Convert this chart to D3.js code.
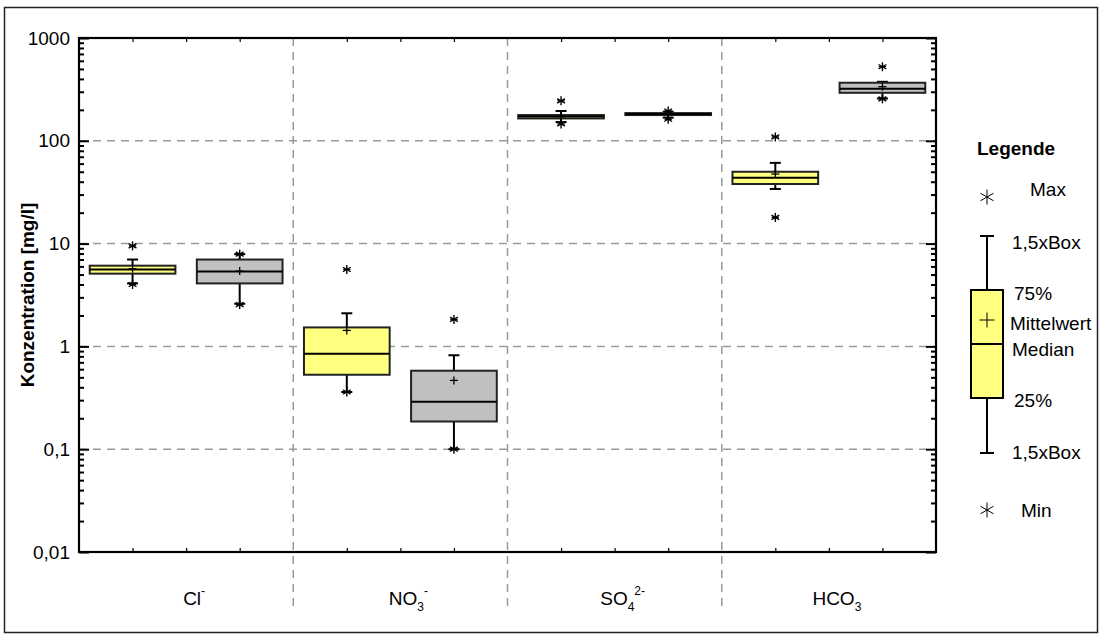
<!DOCTYPE html>
<html><head><meta charset="utf-8">
<script src="https://cdn.jsdelivr.net/npm/d3@7"></script>
<style>
html,body{margin:0;padding:0;background:#fff;}
svg{display:block;font-family:"Liberation Sans",Arial,sans-serif;}
</style></head>
<body>
<svg id="chart" width="1104" height="637"></svg>
<script>
// ---- data ----
const categories = ["Cl", "NO3", "SO4", "HCO3"];
const categoryMain = ["Cl", "NO", "SO", "HCO"];
const categorySub = ["", "3", "4", "3"];
const categorySup = ["-", "-", "2-", ""];

const yellowMin       = [4.0, 0.36, 146, 18];
const yellowWhiskLow  = [4.1, 0.36, 152, 34];
const yellowQ1        = [5.1, 0.53, 165, 38];
const yellowMedian    = [5.6, 0.85, 172, 43.6];
const yellowMean      = [5.7, 1.43, 172, 47.5];
const yellowQ3        = [6.1, 1.53, 178, 50];
const yellowWhiskHigh = [7.0, 2.1, 195, 61];
const yellowMax       = [9.5, 5.6, 245, 109];

const grayMin       = [2.55, 0.1, 162, 256];
const grayWhiskLow  = [2.6, 0.1, 168, 258];
const grayQ1        = [4.1, 0.186, 178, 293];
const grayMedian    = [5.35, 0.29, 182, 321];
const grayMean      = [5.4, 0.467, 182, 336];
const grayQ3        = [7.0, 0.58, 186, 367];
const grayWhiskHigh = [7.9, 0.82, 192, 375];
const grayMax       = [7.9, 1.83, 195, 525];

const yTickValues = [0.01, 0.1, 1, 10, 100, 1000];
const yTickLabels = ["0,01", "0,1", "1", "10", "100", "1000"];
const legendTitle = "Legende";
const legendLabels = ["Max", "1,5xBox", "75%", "Mittelwert", "Median", "25%", "1,5xBox", "Min"];

// ---- layout ----
const svg = d3.select("#chart");
const L = 79, R = 936, T = 38, B = 552;
const FONT = 19;

const x = d3.scaleBand().domain(categories).range([L, R]).padding(0);
const y = d3.scaleLog().domain([0.01, 1000]).range([B, T]);
const bw = x.bandwidth();
const boxW = bw * 0.4;
const capW = 11;

const series = [
  {fill: "#FFFF80", off: 0.25, min: yellowMin, wl: yellowWhiskLow, q1: yellowQ1, med: yellowMedian, mean: yellowMean, q3: yellowQ3, wh: yellowWhiskHigh, max: yellowMax},
  {fill: "#C0C0C0", off: 0.75, min: grayMin, wl: grayWhiskLow, q1: grayQ1, med: grayMedian, mean: grayMean, q3: grayQ3, wh: grayWhiskHigh, max: grayMax}
];

// outer frame
svg.append("rect").attr("x", 4.5).attr("y", 7.5).attr("width", 1093).attr("height", 625)
  .attr("fill", "none").attr("stroke", "#222").attr("stroke-width", 1.5);

// grid lines
const gridVals = [0.1, 1, 10, 100];
svg.append("g").selectAll("line").data(gridVals).join("line")
  .attr("x1", L).attr("x2", R).attr("y1", d => y(d)).attr("y2", d => y(d))
  .attr("stroke", "#9a9a9a").attr("stroke-width", 1.5).attr("stroke-dasharray", "8,6");
svg.append("g").selectAll("line").data(categories.slice(1)).join("line")
  .attr("x1", d => x(d)).attr("x2", d => x(d)).attr("y1", T).attr("y2", 611)
  .attr("stroke", "#9a9a9a").attr("stroke-width", 1.5).attr("stroke-dasharray", "8,6");

// y axes (major, with labels)
const fmt = d => yTickLabels[yTickValues.indexOf(d)];
const gL = svg.append("g").attr("transform", `translate(${L},0)`)
  .call(d3.axisLeft(y).tickValues(yTickValues).tickFormat(fmt).tickSize(-10).tickPadding(9));
gL.select(".domain").remove();
gL.selectAll(".tick line").attr("stroke", "#000").attr("stroke-width", 2);
gL.selectAll(".tick text").attr("font-size", FONT).attr("fill", "#000")
  .attr("font-family", "Liberation Sans, Arial, sans-serif");

const minorVals = y.ticks().filter(v => yTickValues.indexOf(v) < 0);
const gLm = svg.append("g").attr("transform", `translate(${L},0)`)
  .call(d3.axisLeft(y).tickValues(minorVals).tickFormat("").tickSize(-5));
gLm.select(".domain").remove();
gLm.selectAll(".tick line").attr("stroke", "#000").attr("stroke-width", 2);

const gR = svg.append("g").attr("transform", `translate(${R},0)`)
  .call(d3.axisRight(y).tickValues(yTickValues).tickFormat("").tickSize(-10));
gR.select(".domain").remove();
gR.selectAll(".tick line").attr("stroke", "#000").attr("stroke-width", 2);
const gRm = svg.append("g").attr("transform", `translate(${R},0)`)
  .call(d3.axisRight(y).tickValues(minorVals).tickFormat("").tickSize(-5));
gRm.select(".domain").remove();
gRm.selectAll(".tick line").attr("stroke", "#000").attr("stroke-width", 2);

// top / bottom small ticks at quarter bands
const quarterPos = [];
categories.forEach(c => { [0.25, 0.5, 0.75].forEach(f => quarterPos.push(x(c) + bw * f)); });
const qs = d3.scaleLinear().domain([L, R]).range([L, R]);
const gT = svg.append("g").attr("transform", `translate(0,${T})`)
  .call(d3.axisTop(qs).tickValues(quarterPos).tickFormat("").tickSize(-4));
gT.select(".domain").remove();
gT.selectAll(".tick line").attr("stroke", "#000").attr("stroke-width", 1.2);
const gB = svg.append("g").attr("transform", `translate(0,${B})`)
  .call(d3.axisBottom(qs).tickValues(quarterPos).tickFormat("").tickSize(-4));
gB.select(".domain").remove();
gB.selectAll(".tick line").attr("stroke", "#000").attr("stroke-width", 1.2);

// plot frame
svg.append("rect").attr("x", L).attr("y", T).attr("width", R - L).attr("height", B - T)
  .attr("fill", "none").attr("stroke", "#000").attr("stroke-width", 2.2);

// category labels
const catG = svg.append("g");
categories.forEach((c, i) => {
  const t = catG.append("text").attr("x", x(c) + bw / 2 + 8).attr("y", 605)
    .attr("text-anchor", "middle").attr("font-size", FONT).attr("fill", "#000");
  t.append("tspan").text(categoryMain[i]);
  if (categorySub[i]) t.append("tspan").attr("dy", 6).attr("font-size", 12).text(categorySub[i]);
  if (categorySup[i]) t.append("tspan").attr("dy", categorySub[i] ? -16 : -10).attr("font-size", 12).text(categorySup[i]);
});

// y title
svg.append("text").attr("transform", `translate(34,${(T + B) / 2}) rotate(-90)`)
  .attr("text-anchor", "middle").attr("font-size", FONT).attr("font-weight", "bold")
  .text("Konzentration [mg/l]");

// star marker
function star(g, cx, cy, r, sw, withH) {
  const p = g.append("g").attr("transform", `translate(${cx},${cy})`)
    .attr("stroke", "#000").attr("stroke-width", sw);
  p.append("line").attr("x1", 0).attr("x2", 0).attr("y1", -r).attr("y2", r);
  const a = r * Math.cos(Math.PI / 6), b = r * Math.sin(Math.PI / 6);
  p.append("line").attr("x1", -a).attr("x2", a).attr("y1", -b).attr("y2", b);
  p.append("line").attr("x1", -a).attr("x2", a).attr("y1", b).attr("y2", -b);
  if (withH) p.append("line").attr("x1", -r * 0.8).attr("x2", r * 0.8).attr("y1", 0).attr("y2", 0);
}
function plus(g, cx, cy, r, sw) {
  const p = g.append("g").attr("stroke", "#000").attr("stroke-width", sw);
  p.append("line").attr("x1", cx - r).attr("x2", cx + r).attr("y1", cy).attr("y2", cy);
  p.append("line").attr("x1", cx).attr("x2", cx).attr("y1", cy - r).attr("y2", cy + r);
}

// boxes
const boxG = svg.append("g");
series.forEach(s => {
  categories.forEach((c, i) => {
    const cx = x(c) + bw * s.off;
    const g = boxG.append("g");
    // whiskers
    g.append("line").attr("x1", cx).attr("x2", cx).attr("y1", y(s.q3[i])).attr("y2", y(s.wh[i]))
      .attr("stroke", "#000").attr("stroke-width", 2);
    g.append("line").attr("x1", cx).attr("x2", cx).attr("y1", y(s.q1[i])).attr("y2", y(s.wl[i]))
      .attr("stroke", "#000").attr("stroke-width", 2);
    g.append("line").attr("x1", cx - capW / 2).attr("x2", cx + capW / 2).attr("y1", y(s.wh[i])).attr("y2", y(s.wh[i]))
      .attr("stroke", "#000").attr("stroke-width", 2);
    g.append("line").attr("x1", cx - capW / 2).attr("x2", cx + capW / 2).attr("y1", y(s.wl[i])).attr("y2", y(s.wl[i]))
      .attr("stroke", "#000").attr("stroke-width", 2);
    // box
    g.append("rect").attr("x", cx - boxW / 2).attr("width", boxW)
      .attr("y", y(s.q3[i])).attr("height", y(s.q1[i]) - y(s.q3[i]))
      .attr("fill", s.fill).attr("stroke", "#222").attr("stroke-width", 2);
    g.append("line").attr("x1", cx - boxW / 2).attr("x2", cx + boxW / 2)
      .attr("y1", y(s.med[i])).attr("y2", y(s.med[i])).attr("stroke", "#000").attr("stroke-width", 2);
    plus(g, cx, y(s.mean[i]), 4, 1.3);
    star(g, cx, y(s.max[i]), 4.5, 1.4, true);
    star(g, cx, y(s.min[i]), 4.5, 1.4, true);
  });
});

// legend
const lg = svg.append("g");
const lx = 987;
lg.append("text").attr("x", 977).attr("y", 155).attr("font-size", FONT).attr("font-weight", "bold").text(legendTitle);
star(lg, lx, 197, 7.5, 1, false);
lg.append("line").attr("x1", lx).attr("x2", lx).attr("y1", 236).attr("y2", 453).attr("stroke", "#000").attr("stroke-width", 2);
lg.append("line").attr("x1", lx - 7).attr("x2", lx + 7).attr("y1", 236).attr("y2", 236).attr("stroke", "#000").attr("stroke-width", 2);
lg.append("line").attr("x1", lx - 7).attr("x2", lx + 7).attr("y1", 453).attr("y2", 453).attr("stroke", "#000").attr("stroke-width", 2);
lg.append("rect").attr("x", 971).attr("y", 290).attr("width", 32).attr("height", 108)
  .attr("fill", "#FFFF80").attr("stroke", "#000").attr("stroke-width", 2);
lg.append("line").attr("x1", 971).attr("x2", 1003).attr("y1", 344).attr("y2", 344).attr("stroke", "#000").attr("stroke-width", 2);
plus(lg, lx, 320, 7.5, 1);
star(lg, lx, 510, 7.5, 1, false);
const legPos = [[1030, 189], [1012, 242], [1014, 293], [1010, 323], [1012, 349], [1014, 400], [1012, 452], [1021, 510]];
legendLabels.forEach((t, i) => {
  lg.append("text").attr("x", legPos[i][0]).attr("y", legPos[i][1]).attr("dy", "0.35em")
    .attr("font-size", FONT).text(t);
});
</script>
</body></html>
